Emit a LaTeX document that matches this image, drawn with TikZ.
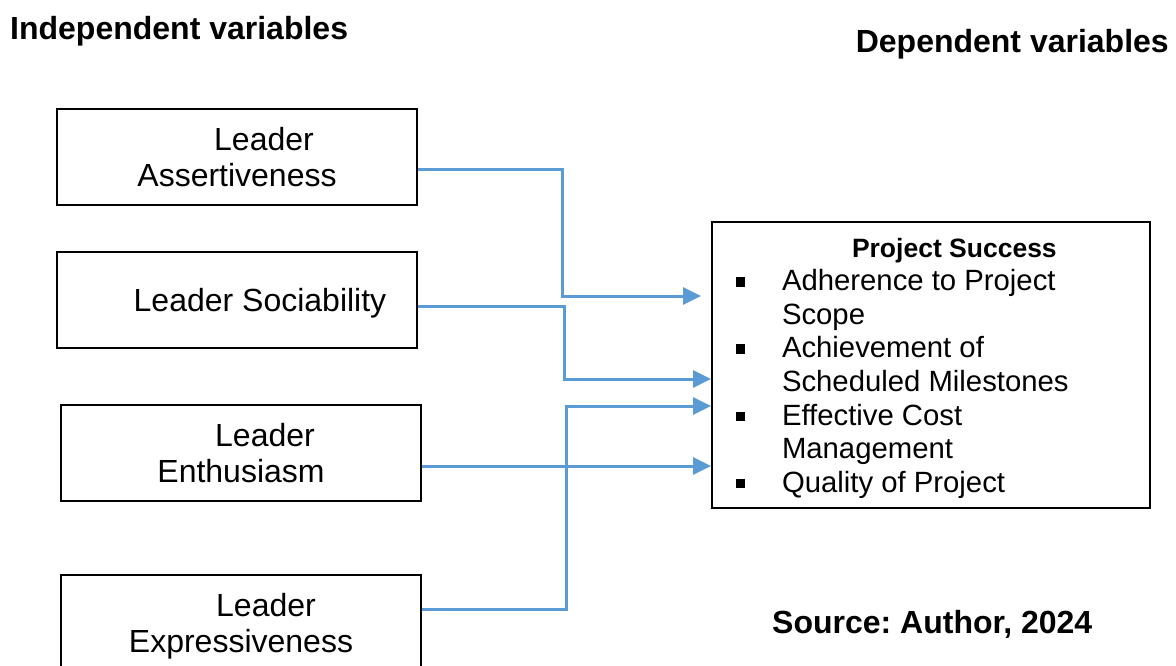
\documentclass[tikz,border=0pt]{standalone}
\usepackage{fontspec}
\setmainfont{Liberation Sans}
\usetikzlibrary{arrows.meta,calc}
\definecolor{linkblue}{RGB}{91,155,213}
\tikzstyle{varbox}=[draw,line width=1.8pt,minimum width=360pt,minimum height=96pt,align=center,inner sep=0pt,text depth=0pt,font=\fontsize{32}{36}\selectfont]
\tikzstyle{outcome}=[draw,line width=1.8pt,minimum width=438pt,minimum height=286pt,inner sep=0pt,font=\fontsize{29.3}{33.6}\selectfont]
\tikzstyle{heading}=[inner sep=0pt,font=\fontsize{32}{38}\selectfont\bfseries\frenchspacing]
\tikzstyle{link}=[draw=linkblue,line width=3pt,-{Triangle[length=18pt,width=17pt]}]
\newcommand{\sqbullet}{\rule[4pt]{9.5pt}{9.5pt}}

\begin{document}
\begin{tikzpicture}[x=1pt,y=-1pt]
    \useasboundingbox (0,0) rectangle (1176,666);
    \node[heading,anchor=base west] (indep) at (10,40) {Independent variables};
    \node[heading,anchor=base east] (dep) at (1169,53) {Dependent variables};
    \node[heading,anchor=base west] (source) at (772,633) {Source: Author, 2024};

    \foreach \pos/\name/\txt in {{(237,157)/assert/{\hspace*{54pt}Leader\\Assertiveness}},
                                 {(237,300)/soc/{\hspace*{46pt}Leader Sociability}},
                                 {(241,453)/enth/{\hspace*{48pt}Leader\\Enthusiasm}},
                                 {(241,623)/expr/{\hspace*{50pt}Leader\\Expressiveness}}}
        \node[varbox] (\name) at \pos {\txt};

    \node[outcome] (success) at (931,365) {\raisebox{-3pt}[\height][\depth]{\makebox[438pt][l]{%
        \begin{tabular}{@{\hspace*{23.5pt}}l@{\hspace*{37pt}}l@{}}
        \multicolumn{2}{@{\hspace*{140pt}}l@{}}{\fontsize{26.5}{33.6}\selectfont\bfseries Project Success}\\
        \sqbullet & Adherence to Project\\
                  & Scope\\
        \sqbullet & Achievement of\\
                  & Scheduled Milestones\\
        \sqbullet & Effective Cost\\
                  & Management\\
        \sqbullet & Quality of Project
        \end{tabular}}}};

    \path[link] (assert.east |- 0,170) -| (562,296) -- ($(success.west |- 0,296)+(-10,0)$);
    \path[link] (soc.east |- 0,306) -| (564,379) -- (success.west |- 0,379);
    \path[link] (expr.east |- 0,609) -| (566,406) -- (success.west |- 0,406);
    \path[link] (enth.east |- 0,466) -- (success.west |- 0,466);
\end{tikzpicture}
\end{document}
